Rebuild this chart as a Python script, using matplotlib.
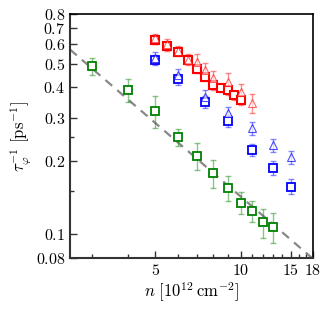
import numpy as np
import matplotlib
matplotlib.use('Agg')
import matplotlib.pyplot as plt
from matplotlib.ticker import FixedLocator, FixedFormatter, NullFormatter

plt.rcParams['mathtext.fontset'] = 'cm'
plt.rcParams['font.family'] = 'serif'
plt.rcParams['font.serif'] = ['cmr10', 'DejaVu Serif']
plt.rcParams['axes.formatter.use_mathtext'] = True

# green squares
n_green = [3.0, 4.0, 5.0, 6.0, 7.0, 8.0, 9.0, 10.0, 11.0, 12.0, 13.0]
tau_green = [0.49, 0.39, 0.32, 0.25, 0.21, 0.178, 0.155, 0.135, 0.125, 0.112, 0.107]
err_green = [0.04, 0.042, 0.048, 0.02, 0.027, 0.023, 0.018, 0.014, 0.012, 0.015, 0.015]

# red squares / triangles
n_red_sq = [5.0, 5.5, 6.0, 6.5, 7.0, 7.5, 8.0, 8.5, 9.0, 9.5, 10.0]
tau_red_sq = [0.626, 0.59, 0.561, 0.518, 0.478, 0.441, 0.408, 0.399, 0.389, 0.371, 0.354]
err_red_sq = [0.025, 0.024, 0.02, 0.02, 0.018, 0.017, 0.016, 0.015, 0.016, 0.016, 0.016]

n_red_tri = [5.0, 5.5, 6.0, 6.5, 7.0, 7.5, 8.0, 9.0, 10.0, 11.0]
tau_red_tri = [0.635, 0.60, 0.565, 0.52, 0.51, 0.471, 0.436, 0.422, 0.384, 0.345]
err_red_tri = [0.03, 0.03, 0.028, 0.026, 0.04, 0.035, 0.032, 0.035, 0.03, 0.03]

# blue squares / triangles
n_blue_sq = [5.0, 6.0, 7.5, 9.0, 11.0, 13.0, 15.0]
tau_blue_sq = [0.518, 0.433, 0.35, 0.292, 0.222, 0.188, 0.157]
err_blue_sq = [0.025, 0.022, 0.02, 0.017, 0.013, 0.012, 0.011]

n_blue_tri = [5.0, 6.0, 7.5, 9.0, 11.0, 13.0, 15.0]
tau_blue_tri = [0.53, 0.452, 0.367, 0.313, 0.272, 0.232, 0.207]
err_blue_tri = [0.03, 0.025, 0.022, 0.02, 0.017, 0.014, 0.012]

# dashed guide ~ 1/n
n_line = [2.5, 18.0]
line_coef = 1.43

fig = plt.figure(figsize=(3.32, 3.11), dpi=100)
ax = fig.add_axes([0.211, 0.170, 0.732, 0.785])

ax.plot(n_line, [line_coef / v for v in n_line], color='#888888', ls=(0, (4, 3)), lw=1.6, zorder=1)

def series(x, y, e, col, mk, ms, mew, alpha=1.0):
    ax.errorbar(x, y, yerr=e, fmt='none', ecolor=col, alpha=0.45, elinewidth=1.0,
                capsize=2.5, capthick=1.0, zorder=2)
    ax.plot(x, y, ls='none', marker=mk, mfc='white', mec=col, ms=ms, mew=mew,
            alpha=alpha, zorder=3)

series(n_red_sq, tau_red_sq, err_red_sq, 'red', 's', 5.5, 1.5)
series(n_red_tri, tau_red_tri, err_red_tri, 'red', '^', 5.5, 0.8, alpha=0.6)
series(n_blue_sq, tau_blue_sq, err_blue_sq, 'blue', 's', 5.5, 1.3)
series(n_blue_tri, tau_blue_tri, err_blue_tri, 'blue', '^', 5.5, 0.8, alpha=0.7)
series(n_green, tau_green, err_green, 'green', 's', 5.5, 1.3)

ax.set_xscale('log')
ax.set_yscale('log')
ax.set_xlim(2.5, 18)
ax.set_ylim(0.08, 0.8)

xt = [5, 10, 15, 18]
ax.xaxis.set_major_locator(FixedLocator(xt))
ax.xaxis.set_major_formatter(FixedFormatter([r'$%d$' % v for v in xt]))
ax.xaxis.set_minor_locator(FixedLocator([3, 4, 6, 7, 8, 9, 11, 12, 13, 14, 16, 17]))
ax.xaxis.set_minor_formatter(NullFormatter())

yt = [0.08, 0.1, 0.2, 0.3, 0.4, 0.5, 0.6, 0.7, 0.8]
ax.yaxis.set_major_locator(FixedLocator(yt))
ax.yaxis.set_major_formatter(FixedFormatter([r'$%g$' % v for v in yt]))
ax.yaxis.set_minor_locator(FixedLocator([0.15, 0.25]))
ax.yaxis.set_minor_formatter(NullFormatter())

ax.tick_params(which='both', direction='in', top=False, right=False, labelsize=11.5, color='#333333')
ax.tick_params(which='major', length=5, width=1)
ax.tick_params(which='minor', length=3, width=1)

for s in ['left', 'bottom']:
    ax.spines[s].set_linewidth(1.5)
    ax.spines[s].set_color('#333333')
for s in ['top', 'right']:
    ax.spines[s].set_linewidth(1.2)

ax.set_xlabel(r'$n\ [10^{12}\,\mathrm{cm}^{-2}]$', fontsize=12, labelpad=2)
ax.set_ylabel(r'$\tau_\varphi^{-1}\ [\mathrm{ps}^{-1}]$', fontsize=12, labelpad=2)

fig.savefig('out.png', dpi=100)
